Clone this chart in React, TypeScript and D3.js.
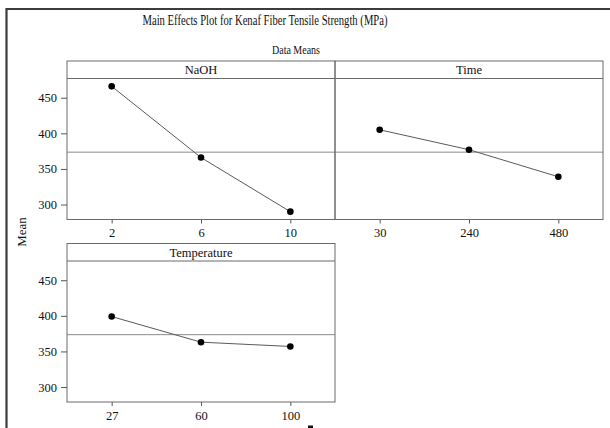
import React, { useRef, useEffect } from 'react'
import * as d3 from 'd3'

// factor levels and data means
const naohLevels = ['2', '6', '10']
const naohMeans = [466, 366, 290]
const timeLevels = ['30', '240', '480']
const timeMeans = [405, 377, 339]
const tempLevels = ['27', '60', '100']
const tempMeans = [399, 363, 357]
const yTicks = [300, 350, 400, 450]

const factors = [
  { name: 'NaOH', levels: naohLevels, means: naohMeans, col: 0, row: 0 },
  { name: 'Time', levels: timeLevels, means: timeMeans, col: 1, row: 0 },
  { name: 'Temperature', levels: tempLevels, means: tempMeans, col: 0, row: 1 }
]

const W = 610
const H = 428
const font = '"Liberation Serif", "Times New Roman", serif'

const App = () => {
  const svgRef = useRef<SVGSVGElement | null>(null)

  useEffect(() => {
    const svg = d3.select(svgRef.current)
    svg.selectAll('*').remove()

    const panelX0 = 67
    const panelW = 268
    const rowTops = [61, 243.5]
    const stripH = 17.5
    const plotH = 141

    const grandMean = d3.mean(factors.flatMap(f => f.means)) as number

    // outer frame (left + top visible)
    svg.append('path')
      .attr('d', `M${W + 5},9 L6.5,9 L6.5,${H + 5}`)
      .attr('fill', 'none')
      .attr('stroke', '#3c3c3c')
      .attr('stroke-width', 2.2)

    svg.append('text')
      .attr('x', 265).attr('y', 25)
      .attr('text-anchor', 'middle')
      .attr('font-family', font).attr('font-size', 14.5)
      .attr('textLength', 245).attr('lengthAdjust', 'spacingAndGlyphs')
      .attr('fill', '#111')
      .text('Main Effects Plot for Kenaf Fiber Tensile Strength (MPa)')

    svg.append('text')
      .attr('x', 296).attr('y', 54)
      .attr('text-anchor', 'middle')
      .attr('font-family', font).attr('font-size', 13.5)
      .attr('textLength', 48).attr('lengthAdjust', 'spacingAndGlyphs')
      .attr('fill', '#111')
      .text('Data Means')

    svg.append('text')
      .attr('transform', 'translate(26,232) rotate(-90)')
      .attr('text-anchor', 'middle')
      .attr('font-family', font).attr('font-size', 13)
      .attr('fill', '#111')
      .text('Mean')

    factors.forEach(f => {
      const x0 = panelX0 + f.col * panelW
      const top = rowTops[f.row]
      const plotTop = top + stripH
      const g = svg.append('g').attr('transform', `translate(${x0},${plotTop})`)

      const x = d3.scalePoint().domain(f.levels).range([0, panelW]).padding(0.5)
      const y = d3.scaleLinear().domain([279, 477]).range([plotH, 0])

      // panel box and strip
      svg.append('rect')
        .attr('x', x0).attr('y', top)
        .attr('width', panelW).attr('height', stripH + plotH)
        .attr('fill', 'none').attr('stroke', '#6a6a6a').attr('stroke-width', 1)
      svg.append('line')
        .attr('x1', x0).attr('x2', x0 + panelW)
        .attr('y1', plotTop).attr('y2', plotTop)
        .attr('stroke', '#6a6a6a')
      svg.append('text')
        .attr('x', x0 + panelW / 2).attr('y', top + 13)
        .attr('text-anchor', 'middle')
        .attr('font-family', font).attr('font-size', 12.5)
        .attr('fill', '#111')
        .text(f.name)

      // reference line at grand mean
      g.append('line')
        .attr('x1', 0).attr('x2', panelW)
        .attr('y1', y(grandMean)).attr('y2', y(grandMean))
        .attr('stroke', '#8a8a8a').attr('stroke-width', 1)

      const xAxis = g.append('g')
        .attr('transform', `translate(0,${plotH})`)
        .call(d3.axisBottom(x).tickSize(4).tickPadding(5))
      xAxis.select('.domain').remove()
      xAxis.selectAll('line').attr('stroke', '#555')
      xAxis.selectAll('text')
        .attr('font-family', font).attr('font-size', 12.5).attr('fill', '#111')

      if (f.col === 0) {
        const yAxis = g.append('g')
          .call(d3.axisLeft(y).tickValues(yTicks).tickSize(6).tickPadding(4))
        yAxis.select('.domain').remove()
        yAxis.selectAll('line').attr('stroke', '#555')
        yAxis.selectAll('text')
          .attr('font-family', font).attr('font-size', 12.5).attr('fill', '#111')
      }

      const pts = f.levels.map((l, i) => ({ level: l, value: f.means[i] }))
      const line = d3.line<{ level: string; value: number }>()
        .x(d => x(d.level) as number)
        .y(d => y(d.value))

      g.append('path')
        .attr('d', line(pts))
        .attr('fill', 'none')
        .attr('stroke', '#5a5a5a')
        .attr('stroke-width', 1)

      g.selectAll('circle')
        .data(pts)
        .enter()
        .append('circle')
        .attr('cx', d => x(d.level) as number)
        .attr('cy', d => y(d.value))
        .attr('r', 3.3)
        .attr('fill', '#000')
    })

    // small mark at the bottom edge
    svg.append('rect')
      .attr('x', 308).attr('y', 425.5)
      .attr('width', 5).attr('height', 3)
      .attr('fill', '#111')
  }, [])

  return (
    <svg
      ref={svgRef}
      width={W}
      height={H}
      style={{ position: 'absolute', left: 0, top: 0, background: '#fff' }}
    />
  )
}

export default App
